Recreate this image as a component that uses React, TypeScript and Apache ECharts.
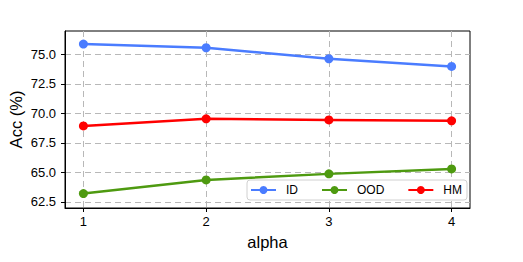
import React, { useEffect, useRef } from "react";
import * as echarts from "echarts";

const alphas = [1, 2, 3, 4];
const idAcc = [75.87, 75.56, 74.63, 73.98];
const oodAcc = [63.21, 64.37, 64.88, 65.3];
const hmAcc = [68.94, 69.54, 69.45, 69.37];
const yTicks = [62.5, 65.0, 67.5, 70.0, 72.5, 75.0];
const xTicks = [1, 2, 3, 4];

const FONT = "Liberation Sans";

export default function App() {
  const ref = useRef<HTMLDivElement>(null);
  useEffect(() => {
    if (!ref.current) return;
    const chart = echarts.init(ref.current, undefined, { renderer: "svg" });
    const mk = (name: string, vals: number[], color: string) => ({
      name,
      type: "line",
      data: alphas.map((a, i) => [a, vals[i]]),
      symbol: "circle",
      symbolSize: 9,
      lineStyle: { color, width: 2.5 },
      itemStyle: { color },
      z: 3,
    });
    chart.setOption({
      animation: false,
      textStyle: { fontFamily: FONT },
      grid: {
        left: 65,
        top: 31,
        right: 53,
        bottom: 54,
        outerBoundsMode: "none",
        containLabel: false,
        show: true,
        borderColor: "#000",
        borderWidth: 1,
        backgroundColor: "transparent",
      },
      graphic: [
        {
          type: "text",
          x: 16,
          y: 119.5,
          rotation: Math.PI / 2,
          style: {
            text: "Acc (%)",
            fontFamily: FONT,
            fontSize: 16.5,
            fill: "#000",
            align: "center",
            verticalAlign: "middle",
          },
        },
      ],
      legend: {
        left: 247,
        top: 180,
        orient: "horizontal",
        padding: [4, 5, 4, 3],
        itemWidth: 25,
        itemHeight: 10,
        itemGap: 23,
        backgroundColor: "#fff",
        borderColor: "#d0d0d0",
        borderWidth: 1,
        borderRadius: 3,
        textStyle: {
          fontFamily: FONT,
          fontSize: 12,
          color: "#000",
          padding: [0, 0, 0, 5],
        },
        data: ["ID", "OOD", "HM"],
      },
      xAxis: {
        type: "value",
        min: 0.85,
        max: 4.15,
        name: "alpha",
        nameLocation: "middle",
        nameGap: 25,
        nameTextStyle: { fontFamily: FONT, fontSize: 16.5, color: "#000" },
        axisLine: { show: true, lineStyle: { color: "#000", width: 1 } },
        axisTick: { show: true, length: 4, customValues: xTicks, lineStyle: { color: "#000" } },
        axisLabel: {
          customValues: xTicks,
          fontFamily: FONT,
          fontSize: 13,
          color: "#000",
          margin: 7,
        },
        splitLine: {
          show: true,
          lineStyle: { color: "#b8b8b8", type: [6, 4], width: 1 },
        },
      },
      yAxis: {
        type: "value",
        min: 61.99,
        max: 76.98,
        axisLine: { show: true, lineStyle: { color: "#000", width: 1 } },
        axisTick: { show: true, length: 4, customValues: yTicks, lineStyle: { color: "#000" } },
        axisLabel: {
          customValues: yTicks,
          fontFamily: FONT,
          fontSize: 13,
          color: "#000",
          margin: 9,
          formatter: (v: number) => v.toFixed(1),
        },
        splitLine: {
          show: true,
          lineStyle: { color: "#b8b8b8", type: [6, 4], width: 1 },
        },
      },
      series: [
        mk("ID", idAcc, "#4a7cff"),
        mk("OOD", oodAcc, "#4e9a10"),
        mk("HM", hmAcc, "#ff0000"),
      ],
    });
    return () => chart.dispose();
  }, []);
  return <div ref={ref} style={{ width: 523, height: 262, margin: -8 }} />;
}
